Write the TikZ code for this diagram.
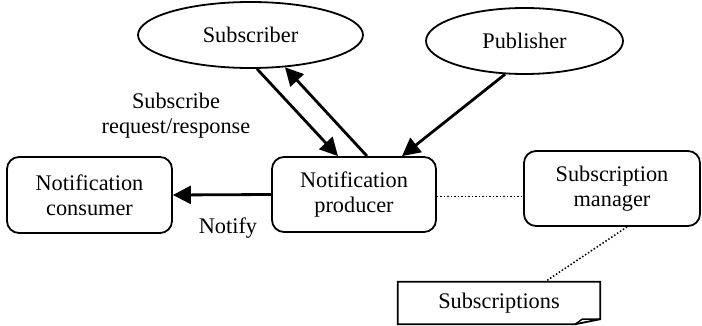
\documentclass[tikz,border=0pt]{standalone}
\usepackage{fontspec}
\setmainfont{Liberation Serif}
\usetikzlibrary{arrows.meta,shapes.geometric,calc}
\tikzset{
  base/.style={font=\fontsize{22.3}{25}\selectfont, align=center, inner sep=0pt},
  rbox/.style={base, draw, line width=1.8pt, rounded corners=12pt},
  oval/.style={base, draw, ellipse, line width=1.8pt},
  conn/.style={line width=2.8pt, -{Triangle[length=18pt,width=18pt]}},
  dots/.style={line width=1.5pt, dotted},
  lbl/.style={base}
}
\begin{document}
\begin{tikzpicture}[x=1pt,y=-1pt]
\useasboundingbox (0,0) rectangle (702,326);
\node[oval, minimum width=225pt, minimum height=66pt] (sub) at (250.5,35) {Subscriber};
\node[oval, minimum width=197pt, minimum height=66pt] (pub) at (524.5,41) {Publisher};
\node[rbox, minimum width=164pt, minimum height=75pt] (prod) at (354,194.5) {Notification\\producer};
\node[rbox, minimum width=165pt, minimum height=76pt] (cons) at (89.5,195) {Notification\\consumer};
\node[rbox, minimum width=176pt, minimum height=75pt] (mgr) at (612,188.5) {Subscription\\manager};
\node[base, minimum width=202pt, minimum height=42pt] (subs) at (499,303) {Subscriptions};
\draw[line width=1.8pt, line join=miter]
  (subs.north west) -- (subs.north east) -- ([yshift=5pt]subs.south east)
  -- ([xshift=-25pt]subs.south east) -- (subs.south west) -- cycle;
\draw[line width=1.5pt, line join=round]
  ([xshift=-25pt]subs.south east) -- ([xshift=-18pt,yshift=5pt]subs.south east) -- ([yshift=5pt]subs.south east);
\node[lbl] (lsub) at (176,115.5) {Subscribe\\request/response};
\node[lbl] (lnot) at (228,228) {Notify};
\draw[conn] ([xshift=6.5pt]sub.south) -- ([xshift=-16pt]prod.north);
\draw[conn] ([xshift=13pt]prod.north) -- ([xshift=34.5pt,yshift=1.6pt]sub.south);
\draw[conn] ([xshift=-19.5pt,yshift=0.6pt]pub.south) -- ([xshift=48pt]prod.north);
\draw[conn] (prod.west) -- (cons.east);
\draw[dots] ([yshift=-2pt]prod.east) -- ([yshift=-2pt]prod.east -| mgr.west);
\draw[dots] ([xshift=15pt]mgr.south) -- ([xshift=46pt]subs.north);
\end{tikzpicture}
\end{document}
